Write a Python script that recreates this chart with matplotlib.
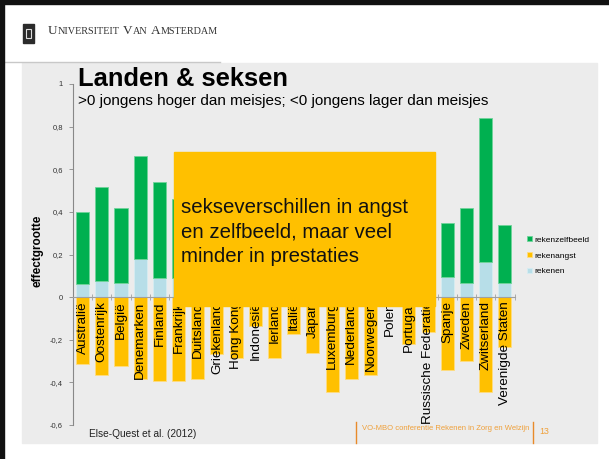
import numpy as np
import matplotlib
matplotlib.use('Agg')
import matplotlib.pyplot as plt
from matplotlib.patches import Rectangle
from matplotlib.lines import Line2D

plt.rcParams['font.family'] = ['Liberation Sans', 'DejaVu Sans']

# data (effect sizes)
landen = ['Australië', 'Oostenrijk', 'België', 'Denemarken', 'Finland', 'Frankrijk',
          'Duitsland', 'Griekenland', 'Hong Kong', 'Indonesië', 'Ierland', 'Italië',
          'Japan', 'Luxemburg', 'Nederland', 'Noorwegen', 'Polen', 'Portugal',
          'Russische Federatie', 'Spanje', 'Zweden', 'Zwitserland', 'Verenigde Staten']
rekenen = [0.06, 0.075, 0.065, 0.18, 0.09, 0.09, 0.10, 0.05, 0.05, 0.02, 0.08, 0.08,
           0.08, 0.15, 0.10, 0.05, 0.02, 0.10, 0.05, 0.095, 0.067, 0.166, 0.067]
rekenzelfbeeld = [0.34, 0.443, 0.352, 0.48, 0.452, 0.369, 0.45, 0.25, 0.30, 0.08, 0.27, 0.22,
                  0.37, 0.40, 0.40, 0.35, 0.23, 0.25, 0.10, 0.251, 0.351, 0.673, 0.27]
rekenangst = [-0.315, -0.366, -0.324, -0.385, -0.394, -0.394, -0.385, -0.265, -0.285, -0.135,
              -0.285, -0.174, -0.261, -0.444, -0.385, -0.365, -0.03, -0.222, -0.163, -0.343,
              -0.302, -0.444, -0.233]
yticks = [-0.6, -0.4, -0.2, 0, 0.2, 0.4, 0.6, 0.8, 1.0]
ylabels = ['-0,6', '-0,4', '-0,2', '0', '0,2', '0,4', '0,6', '0,8', '1']

W, H = 609, 459
def fx(px):
    return px / W
def fy(py):
    return 1 - py / H

fig = plt.figure(figsize=(6.09, 4.59), dpi=100)
fig.patch.set_facecolor('white')
renderer = fig.canvas.get_renderer()

# slide background pieces
fig.patches.append(Rectangle((fx(22), fy(443)), (597 - 22) / W, (443 - 63) / H,
                             transform=fig.transFigure, color='#ececec', zorder=-10))
fig.patches.append(Rectangle((0, fy(3.5)), 1, 3.5 / H, transform=fig.transFigure,
                             color='#111111', zorder=30))
fig.patches.append(Rectangle((0, 0), 4 / W, 1, transform=fig.transFigure,
                             color='#111111', zorder=30))
fig.lines.append(Line2D([0, fx(220)], [fy(62), fy(62)], transform=fig.transFigure,
                        color='#c8c8c8', lw=1))

# logo + university name in small caps
fig.patches.append(Rectangle((fx(22.5), fy(43)), 11 / W, 19 / H, transform=fig.transFigure,
                             color='#2b2b2b', zorder=2))
fig.patches.append(Rectangle((fx(25.5), fy(38)), 5 / W, 9 / H, transform=fig.transFigure,
                             fill=False, edgecolor='#dddddd', lw=0.8, zorder=3))
xpos = 48
for part, size in [('U', 9.5), ('NIVERSITEIT', 7.3), (None, 0), ('V', 9.5), ('AN', 7.3),
                   (None, 0), ('A', 9.5), ('MSTERDAM', 7.3)]:
    if part is None:
        xpos += 3.5
        continue
    t = fig.text(fx(xpos), fy(34), part, fontsize=size, family='Liberation Serif',
                 color='#333333', va='baseline')
    xpos += t.get_window_extent(renderer).width

# titles
fig.text(fx(77.5), fy(85.5), 'Landen & seksen', fontsize=18.4, weight='bold', va='baseline')
fig.text(fx(78), fy(105), '>0 jongens hoger dan meisjes; <0 jongens lager dan meisjes',
         fontsize=11, va='baseline')

# chart
ax = fig.add_axes([fx(73), fy(425), (514.5 - 73) / W, (425 - 84) / H])
ax.patch.set_alpha(0)
x = np.arange(len(landen))
b1 = ax.bar(x, rekenen, width=0.68, color='#B7DEE8', edgecolor='#d6edf2', lw=0.6,
            label='rekenen')
b2 = ax.bar(x, rekenzelfbeeld, bottom=rekenen, width=0.68, color='#00B050',
            edgecolor='#6fd39a', lw=0.6, label='rekenzelfbeeld')
b3 = ax.bar(x, rekenangst, width=0.68, color='#FFC000', edgecolor='#ffdd80', lw=0.6,
            label='rekenangst')

ax.set_xlim(-0.5, len(landen) - 0.5)
ax.set_ylim(-0.6, 1.0)
ax.set_yticks(yticks)
ax.set_yticklabels(ylabels)
ax.tick_params(axis='y', labelsize=5.5, length=3, width=0.6, color='#888888', pad=4.3,
               labelcolor='#333333')

ax.spines['top'].set_visible(False)
ax.spines['right'].set_visible(False)
ax.spines['left'].set_color('#888888')
ax.spines['left'].set_linewidth(0.8)
ax.spines['bottom'].set_position(('data', 0))
ax.spines['bottom'].set_color('#a0a0a0')
ax.spines['bottom'].set_linewidth(0.8)

ax.set_xticks(x)
ax.set_xticklabels(landen, rotation=90, fontsize=9.7)
ax.tick_params(axis='x', which='major', length=0, pad=3)
ax.set_xticks(np.arange(-0.5, len(landen), 1), minor=True)
ax.tick_params(axis='x', which='minor', direction='inout', length=5, width=0.6,
               color='#a0a0a0')

fig.text(fx(37), fy(251), 'effectgrootte', rotation=90, weight='bold', fontsize=8.5,
         ha='center', va='center')

fig.legend([b2, b3, b1], ['rekenzelfbeeld', 'rekenangst', 'rekenen'], loc='upper left',
           bbox_to_anchor=(fx(526.5), fy(236)), frameon=False, fontsize=6,
           handlelength=0.6, handleheight=0.6, handletextpad=0.3, labelspacing=1.0,
           borderpad=0, borderaxespad=0)

# the orange callout box covers part of the chart
fig.patches.append(Rectangle((fx(174), fy(305.7)), (435 - 174) / W, (305.7 - 152) / H,
                             transform=fig.transFigure, color='#FFC000', zorder=20))
t = fig.text(fx(181), fy(232), 'sekseverschillen in angst\nen zelfbeeld, maar veel\nminder in prestaties',
             fontsize=14.7, linespacing=1.35, va='center', ha='left', color='#111111')
t.set_zorder(21)

# footer
fig.text(fx(89), fy(434), 'Else-Quest et al. (2012)', fontsize=7.3, va='center',
         color='#222222')
fig.text(fx(362), fy(428.5), 'VO-MBO conferentie Rekenen in Zorg en Welzijn', fontsize=5.5,
         color='#EFA03A', va='center')
fig.text(fx(539), fy(432), '13', fontsize=6.3, color='#EFA03A', va='center')
for lx in [355.7, 533.3]:
    fig.lines.append(Line2D([fx(lx), fx(lx)], [fy(421.7), fy(442.7)],
                            transform=fig.transFigure, color='#E88A2A', lw=1))

fig.savefig('out.png', dpi=100)
